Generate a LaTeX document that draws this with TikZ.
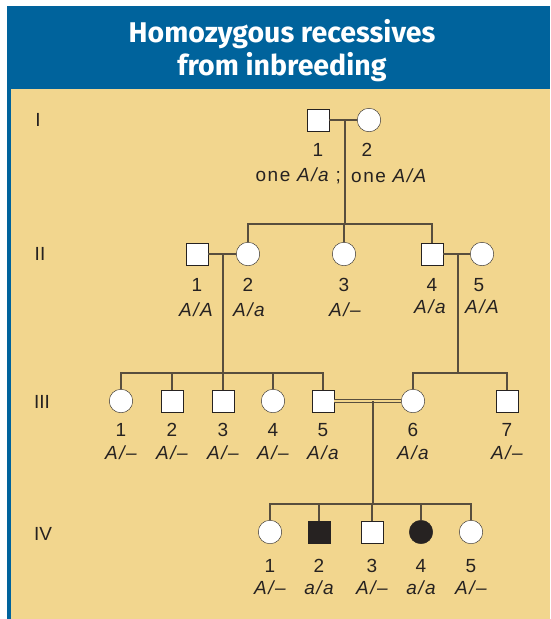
\documentclass[tikz,border=0pt]{standalone}
\usepackage{fontspec}
\setmainfont{Liberation Sans}
\newfontfamily\titlefont{Fira Sans}
\newfontfamily\pedfont[LetterSpace=8]{Liberation Sans}
\usetikzlibrary{positioning}
\definecolor{header}{RGB}{0,99,156}
\definecolor{panel}{RGB}{242,214,142}
\definecolor{pedline}{RGB}{88,78,62}
\definecolor{ink}{RGB}{38,34,33}

\begin{document}
\begin{tikzpicture}[x=1pt, y=-1pt,
    male/.style={draw=ink, fill=white, rectangle, minimum size=22.5pt, inner sep=0pt},
    female/.style={draw=ink, fill=white, circle, minimum size=23.5pt, inner sep=0pt},
    sick/.style={fill=ink},
    conn/.style={draw=pedline, line width=1.1pt},
    num/.style={font=\pedfont\fontsize{19}{22}\selectfont, text=ink, inner sep=0pt},
    geno/.style={font=\pedfont\itshape\fontsize{19}{22}\selectfont, text=ink, inner sep=0pt},
    gen/.style={font=\fontsize{19}{22}\selectfont, text=ink, inner sep=0pt}]
  \useasboundingbox (0,0) rectangle (550,619);
  % panel and header
  \fill[header] (7,6) rectangle (550,89);
  \fill[header] (7,89) rectangle (10.5,619);
  \fill[panel] (10.5,89) rectangle (550,619);
  \node[font=\titlefont\bfseries\fontsize{28.5}{33}\selectfont, text=white, align=center] (title) at (282,51)
    {Homozygous recessives\\from inbreeding};
  % generation labels
  \node[gen] (g1) at (38,120) {I};
  \node[gen] (g2) at (40,254) {II};
  \node[gen] (g3) at (42,402) {III};
  \node[gen] (g4) at (43,534) {IV};

  % generation I
  \node[male] (i1) at (318,120) {};
  \node[female] (i2) at (369,120) {};
  \node[num] (i1n) at (318,150) {1};
  \node[num] (i2n) at (367,150) {2};
  \node[geno, anchor=east] (i1g) at (341,176) {\upshape one \itshape A/a \upshape ;};
  \node[geno, anchor=west] (i2g) at (351,176) {\upshape one \itshape A/A};

  % generation II
  \node[male] (ii1) at (197,254) {};
  \node[female] (ii2) at (248,254) {};
  \node[female] (ii3) at (344,254) {};
  \node[male] (ii4) at (432,254) {};
  \node[female] (ii5) at (482,254) {};
  \node[num] (ii1n) at (197,285) {1};
  \node[num] (ii2n) at (248,285) {2};
  \node[num] (ii3n) at (344,285) {3};
  \node[num] (ii4n) at (432,285) {4};
  \node[num] (ii5n) at (479,285) {5};
  \node[geno] (ii1g) at (196,310) {A/A};
  \node[geno] (ii2g) at (249,310) {A/a};
  \node[geno] (ii3g) at (345,310) {A/–};
  \node[geno] (ii4g) at (430,307) {A/a};
  \node[geno] (ii5g) at (482,307) {A/A};

  % generation III
  \node[female] (iii1) at (121,401) {};
  \node[male] (iii2) at (172,401) {};
  \node[male] (iii3) at (223,401) {};
  \node[female] (iii4) at (273,401) {};
  \node[male] (iii5) at (323,401) {};
  \node[female] (iii6) at (413,401) {};
  \node[male] (iii7) at (507,401) {};
  \node[num] (iii1n) at (121,430) {1};
  \node[num] (iii2n) at (172,430) {2};
  \node[num] (iii3n) at (223,430) {3};
  \node[num] (iii4n) at (273,430) {4};
  \node[num] (iii5n) at (323,430) {5};
  \node[num] (iii6n) at (413,430) {6};
  \node[num] (iii7n) at (507,430) {7};
  \node[geno] (iii1g) at (121,453) {A/–};
  \node[geno] (iii2g) at (172,453) {A/–};
  \node[geno] (iii3g) at (223,453) {A/–};
  \node[geno] (iii4g) at (273,453) {A/–};
  \node[geno] (iii5g) at (323,453) {A/a};
  \node[geno] (iii6g) at (413,453) {A/a};
  \node[geno] (iii7g) at (507,453) {A/–};

  % generation IV
  \node[female] (iv1) at (270,532) {};
  \node[male, sick] (iv2) at (319,532) {};
  \node[male] (iv3) at (372,532) {};
  \node[female, sick] (iv4) at (421,532) {};
  \node[female] (iv5) at (471,532) {};
  \node[num] (iv1n) at (270,566) {1};
  \node[num] (iv2n) at (319,566) {2};
  \node[num] (iv3n) at (372,566) {3};
  \node[num] (iv4n) at (421,566) {4};
  \node[num] (iv5n) at (471,566) {5};
  \node[geno] (iv1g) at (270,588) {A/–};
  \node[geno] (iv2g) at (319,588) {a/a};
  \node[geno] (iv3g) at (372,588) {A/–};
  \node[geno] (iv4g) at (421,588) {a/a};
  \node[geno] (iv5g) at (471,588) {A/–};

  % matings and sibships
  \coordinate (m1) at (345,120);
  \coordinate (s2) at (345,224);
  \coordinate (m21) at (223,254);
  \coordinate (m22) at (458,254);
  \coordinate (s3) at (223,373);
  \coordinate (s3b) at (458,373);
  \coordinate (m3) at (373,401);
  \coordinate (s4) at (373,504);

  \draw[conn] (i1.east) -- (i2.west);
  \draw[conn] (m1) -- (s2);
  \draw[conn] (ii2.north) |- (s2) -| (ii4.north);
  \draw[conn] (ii3.north) -- (ii3.north |- s2);

  \draw[conn] (ii1.east) -- (ii2.west);
  \draw[conn] (ii4.east) -- (ii5.west);
  \draw[conn] (m21) -- (s3);
  \draw[conn] (m22) -- (s3b);
  \draw[conn] (iii1.north) |- (s3) -| (iii5.north);
  \draw[conn] (iii2.north) -- (iii2.north |- s3);
  \draw[conn] (iii3.north) -- (iii3.north |- s3);
  \draw[conn] (iii4.north) -- (iii4.north |- s3);
  \draw[conn] (iii6.north) |- (s3b) -| (iii7.north);

  \draw[conn, line width=0.9pt, double=panel, double distance=2.2pt] (iii5.east) -- (iii6.west);
  \draw[conn] (m3) -- (s4);
  \draw[conn] (iv1.north) |- (s4) -| (iv5.north);
  \draw[conn] (iv2.north) -- (iv2.north |- s4);
  \draw[conn] (iv3.north) -- (iv3.north |- s4);
  \draw[conn] (iv4.north) -- (iv4.north |- s4);
\end{tikzpicture}
\end{document}
